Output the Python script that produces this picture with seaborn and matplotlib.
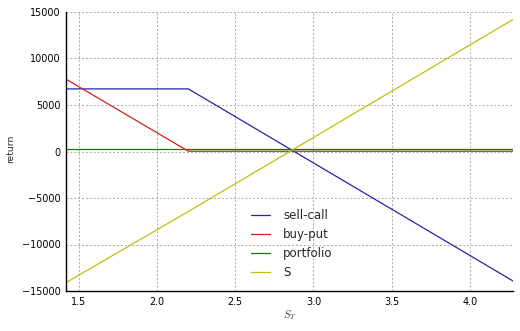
import matplotlib
matplotlib.use("Agg")
import matplotlib.pyplot as plt
import seaborn as sns
import pandas as pd

# data
S_T = [1.417, 2.2, 4.277]
sell_call = [6730, 6730, -13920]
buy_put = [7780, 30, 30]
portfolio = [270, 270, 270]
stock = [-14100, -6450, 14200]
labels = ["sell-call", "buy-put", "portfolio", "S"]
colors = ["#2424a8", "#d02020", "#107a10", "#bfbf10"]

sns.set_style("white")
plt.rcParams['font.family'] = ['DejaVu Sans']
plt.rcParams['mathtext.fontset'] = 'cm'

fig = plt.figure(figsize=(5.2, 3.31), dpi=100)
ax = fig.add_axes([66/520, 1-291/331, (513-66)/520, (291-12)/331])

for ys, lab, c in zip([sell_call, buy_put, portfolio, stock], labels, colors):
    sns.lineplot(x=S_T, y=ys, ax=ax, color=c, label=lab, linewidth=0.9)

ax.set_xlim(1.417, 4.277)
ax.set_ylim(-15000, 15000)
ax.set_xticks([1.5, 2.0, 2.5, 3.0, 3.5, 4.0])
ax.set_yticks([-15000, -10000, -5000, 0, 5000, 10000, 15000])
ax.set_yticklabels(["\u221215000", "\u221210000", "\u22125000", "0", "5000", "10000", "15000"])
ax.tick_params(axis='both', direction='in', length=3, width=0.8, labelsize=6.9,
               colors='black', pad=4)
ax.grid(True, color='#aaaaaa', linestyle=(0, (2, 2)), linewidth=0.7)
for s in ['top', 'right']:
    ax.spines[s].set_visible(False)
for s in ['left', 'bottom']:
    ax.spines[s].set_color('black')
    ax.spines[s].set_linewidth(1.0)

ax.set_ylabel("return", fontsize=6.6)
ax.yaxis.set_label_coords(-0.113, 0.51)
ax.set_xlabel("$S_T$", fontsize=7.5, color='#333333')
ax.xaxis.set_label_coords(0.5, -0.062)

leg = ax.legend(loc='upper left', bbox_to_anchor=(0.414, 0.293), frameon=False,
                fontsize=8.5, borderpad=0, borderaxespad=0, handlelength=1.6,
                handletextpad=1.1, labelspacing=0.5)

fig.savefig("out.png", dpi=100)
